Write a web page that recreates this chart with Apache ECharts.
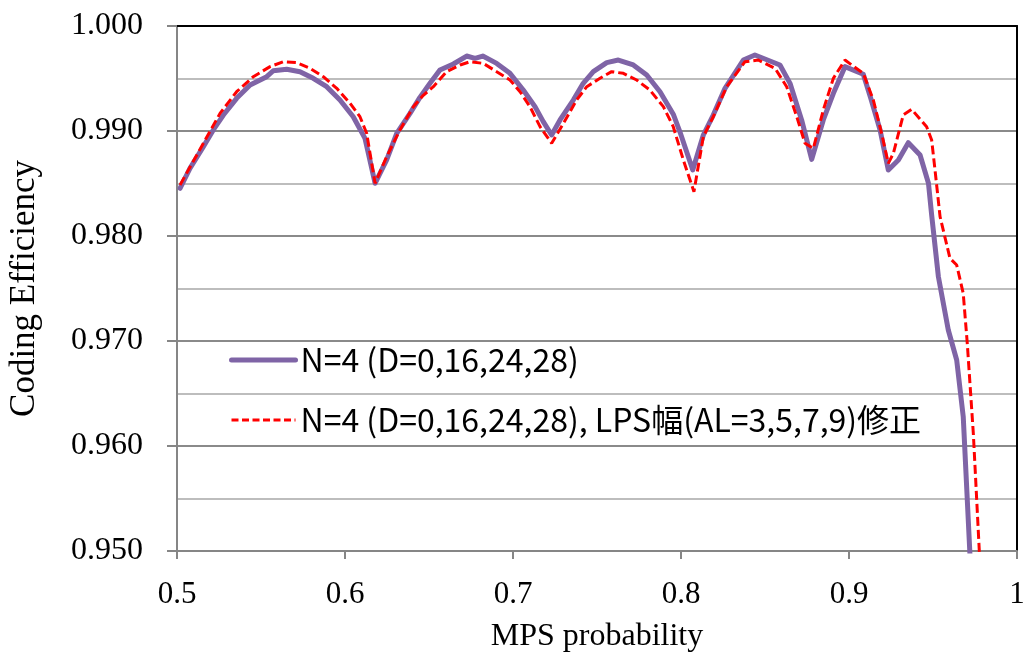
<!DOCTYPE html>
<html>
<head>
<meta charset="utf-8">
<script src="https://cdn.jsdelivr.net/npm/echarts@6/dist/echarts.min.js"></script>
<style>html,body{margin:0;padding:0;background:#fff}#c{width:1027px;height:657px}</style>
</head>
<body>
<div id="c"></div>
<script>
const seriesNames = ['N=4 (D=0,16,24,28)', 'N=4 (D=0,16,24,28), LPS幅(AL=3,5,7,9)修正'];
const purpleX = [0.5018,0.5077,0.5157,0.5216,0.5276,0.5355,0.5435,0.5534,0.5573,0.5653,0.5732,0.5811,0.5891,0.5970,0.6049,0.6119,0.6179,0.6248,0.6308,0.6387,0.6446,0.6506,0.6565,0.6645,0.6724,0.6774,0.6820,0.6903,0.6982,0.7061,0.7131,0.7180,0.7230,0.7280,0.7359,0.7418,0.7478,0.7558,0.7627,0.7716,0.7796,0.7875,0.7954,0.7994,0.8070,0.8133,0.8192,0.8262,0.8371,0.8440,0.8589,0.8649,0.8718,0.8778,0.8847,0.8907,0.8976,0.9085,0.9130,0.9185,0.9234,0.9294,0.9353,0.9423,0.9473,0.9492,0.9532,0.9591,0.9641,0.9680,0.9725];
const purpleY = [0.98454,0.98644,0.98851,0.99010,0.99152,0.99311,0.99438,0.99517,0.99574,0.99588,0.99565,0.99502,0.99422,0.99295,0.99136,0.98930,0.98502,0.98724,0.98978,0.99168,0.99320,0.99455,0.99581,0.99638,0.99714,0.99692,0.99714,0.99644,0.99549,0.99390,0.99232,0.99089,0.98962,0.99105,0.99295,0.99454,0.99565,0.99651,0.99676,0.99629,0.99533,0.99374,0.99160,0.98990,0.98629,0.98962,0.99152,0.99406,0.99676,0.99724,0.99629,0.99454,0.99105,0.98730,0.99105,0.99359,0.99613,0.99541,0.99310,0.99010,0.98629,0.98724,0.98889,0.98771,0.98502,0.98200,0.97613,0.97105,0.96819,0.96279,0.94800];
const redX = [0.5018,0.5157,0.5256,0.5355,0.5454,0.5554,0.5633,0.5712,0.5792,0.5871,0.5951,0.6030,0.6089,0.6129,0.6179,0.6248,0.6327,0.6407,0.6466,0.6526,0.6605,0.6685,0.6744,0.6823,0.6903,0.6982,0.7042,0.7101,0.7161,0.7230,0.7300,0.7379,0.7439,0.7518,0.7587,0.7657,0.7736,0.7815,0.7895,0.7954,0.8014,0.8077,0.8133,0.8192,0.8272,0.8381,0.8460,0.8560,0.8629,0.8689,0.8738,0.8788,0.8847,0.8907,0.8976,0.9085,0.9145,0.9194,0.9234,0.9264,0.9323,0.9373,0.9462,0.9492,0.9512,0.9542,0.9601,0.9641,0.9680,0.9704,0.9740,0.9782];
const redY = [0.98486,0.98883,0.99168,0.99374,0.99517,0.99613,0.99660,0.99651,0.99597,0.99517,0.99406,0.99264,0.99136,0.98978,0.98502,0.98755,0.99010,0.99232,0.99340,0.99422,0.99565,0.99629,0.99660,0.99644,0.99565,0.99486,0.99374,0.99232,0.99041,0.98883,0.99073,0.99295,0.99422,0.99502,0.99565,0.99549,0.99486,0.99390,0.99232,0.99041,0.98724,0.98422,0.98946,0.99136,0.99422,0.99660,0.99676,0.99597,0.99422,0.99136,0.98883,0.98835,0.99200,0.99502,0.99676,0.99549,0.99295,0.98978,0.98692,0.98787,0.99152,0.99206,0.99041,0.98914,0.98629,0.98184,0.97787,0.97724,0.97454,0.96978,0.96121,0.94800];
const xTicks = {min: 0.5, max: 1, interval: 0.1};
const yTicks = {min: 0.95, max: 1, interval: 0.01};

const chart = echarts.init(document.getElementById('c'), null, {renderer: 'canvas'});
const pair = (xs, ys) => xs.map((x, i) => [x, ys[i]]);
const serif = 'Liberation Serif';
const purple = '#7F64A6', red = '#FF0000';
chart.setOption({
  animation: false,
  backgroundColor: '#fff',
  grid: {left: 177, right: 10, top: 26, bottom: 106, containLabel: false, outerBoundsMode: 'none'},
  legend: {
    left: 224, top: 339, orient: 'vertical', itemGap: 28,
    itemWidth: 64, itemHeight: 14,
    itemStyle: {color: 'transparent', borderColor: 'transparent', borderWidth: 0, opacity: 0},
    textStyle: {fontFamily: 'Noto Sans CJK JP', fontSize: 32, color: '#000'},
    data: [
      {name: seriesNames[0], lineStyle: {color: purple, width: 5, type: 'solid', cap: 'round'}},
      {name: seriesNames[1], lineStyle: {color: red, width: 3, type: [7, 3.5]}}
    ]
  },
  xAxis: [{
    type: 'value', min: xTicks.min, max: xTicks.max, interval: xTicks.interval,
    axisLine: {show: true, lineStyle: {color: '#868686', width: 2}},
    axisTick: {show: true, length: 8, lineStyle: {color: '#868686', width: 2}},
    splitLine: {show: false},
    axisLabel: {fontFamily: serif, fontSize: 31, color: '#000', margin: 28,
      formatter: v => (Math.abs(v - 1) < 1e-9 ? '1' : v.toFixed(1))},
    name: 'MPS probability', nameLocation: 'middle', nameGap: 70,
    nameTextStyle: {fontFamily: serif, fontSize: 32, color: '#000'}
  }, {
    type: 'value', position: 'top', min: xTicks.min, max: xTicks.max,
    axisLine: {show: true, lineStyle: {color: '#000', width: 2}},
    axisTick: {show: false}, axisLabel: {show: false}, splitLine: {show: false}
  }],
  yAxis: [{
    type: 'value', min: yTicks.min, max: yTicks.max, interval: yTicks.interval,
    axisLine: {show: true, lineStyle: {color: '#868686', width: 2}},
    axisTick: {show: true, length: 10, lineStyle: {color: '#868686', width: 2}},
    splitLine: {show: true, lineStyle: {color: '#8a8a8a', width: 2}},
    minorTick: {show: false, splitNumber: 2},
    minorSplitLine: {show: true, lineStyle: {color: '#bdbdbd', width: 2}},
    axisLabel: {fontFamily: serif, fontSize: 32, color: '#000', margin: 34,
      formatter: v => v.toFixed(3)},
    name: 'Coding Efficiency', nameLocation: 'middle', nameGap: 135, nameRotate: 90,
    nameTextStyle: {fontFamily: serif, fontSize: 35, color: '#000'}
  }, {
    type: 'value', position: 'right', min: yTicks.min, max: yTicks.max,
    axisLine: {show: true, lineStyle: {color: '#000', width: 2}},
    axisTick: {show: false}, axisLabel: {show: false}, splitLine: {show: false}
  }],
  series: [{
    name: seriesNames[0], type: 'line', data: pair(purpleX, purpleY),
    symbol: 'none', clip: true,
    lineStyle: {color: purple, width: 5, cap: 'round', join: 'round'},
    itemStyle: {color: purple}
  }, {
    name: seriesNames[1], type: 'line', data: pair(redX, redY),
    symbol: 'none', clip: true,
    lineStyle: {color: red, width: 3, type: [9, 4]},
    itemStyle: {color: red}
  }]
});
</script>
</body>
</html>
